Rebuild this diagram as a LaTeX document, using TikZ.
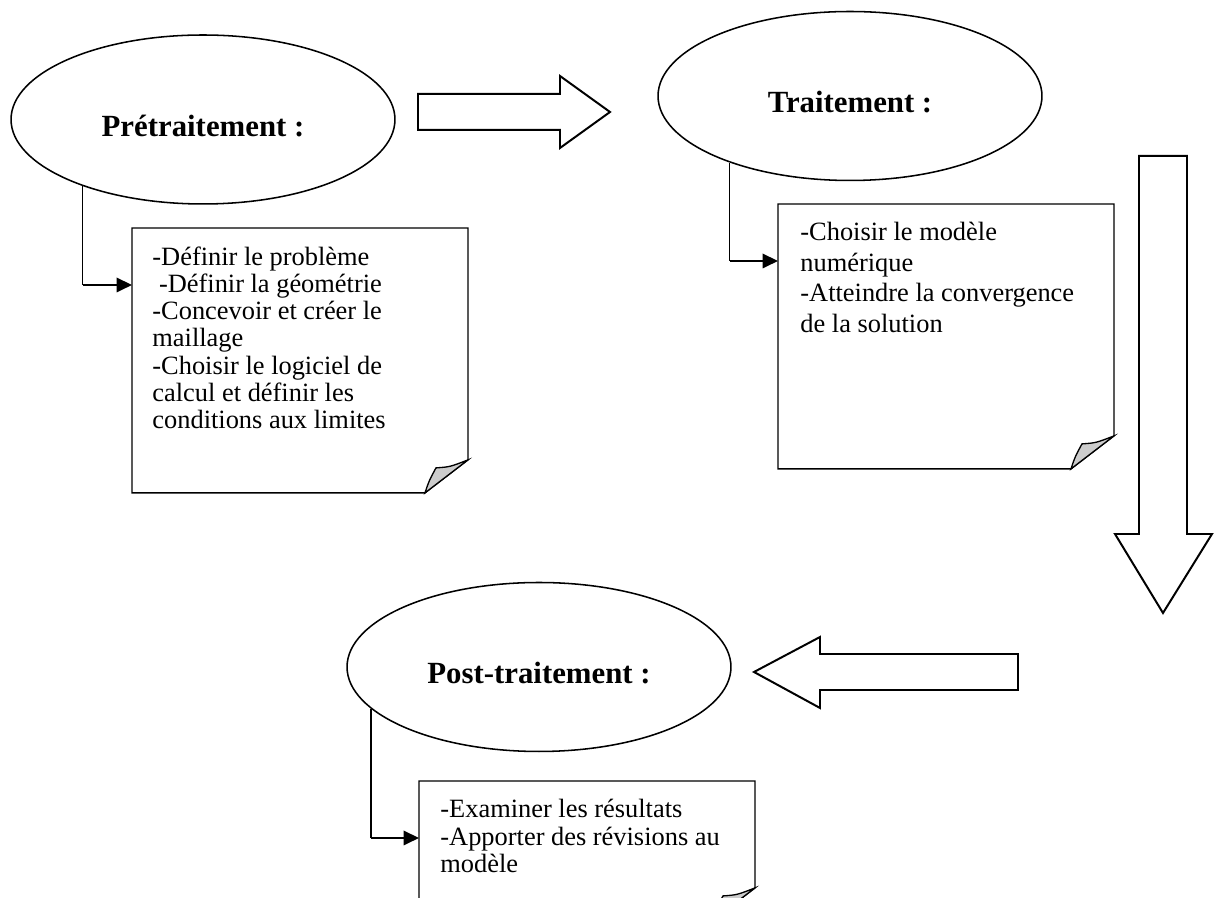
\documentclass[tikz,border=0pt]{standalone}
\usepackage{fontspec}
\setmainfont{Liberation Serif}
\usetikzlibrary{shapes.geometric,arrows.meta,calc}
\tikzset{
 phase/.style={ellipse,draw,line width=.7pt,minimum width=174.5pt,minimum height=76.8pt,inner sep=0pt,text height=15.5pt,font=\fontsize{14}{16}\selectfont\bfseries},
 notebox/.style={anchor=north west,minimum width=152.3pt,minimum height=120pt,inner sep=0pt},
 notetext/.style={anchor=north west,inner sep=0pt,align=left},
 fold/.style={fill=gray!40,draw,line width=.6pt},
 blockarrow/.style={draw,line width=.9pt,line join=miter},
 feed/.style={line width=.6pt},
 link/.style={-{Triangle[length=7pt,width=6.5pt]},line width=1.1pt}
}
\begin{document}
\begin{tikzpicture}[x=.4545pt,y=-.4545pt]
\useasboundingbox (0,0) rectangle (1216,898); \clip (0,0) rectangle (1216,898);
% phases
\node[phase] (pre) at (203,119.5) {Prétraitement :};
\node[phase] (proc) at (850,96) {Traitement :};
\node[phase] (post) at (539,667) {Post-traitement :};
% notes
\node[notebox] (n1) at (132,228) {}; \node[notebox] (n2) at (778,204) {}; \node[notebox,minimum height=63.2pt] (n3) at (419,781) {};
\foreach \n in {n1,n2,n3}{
 \draw[feed] (\n.north west)--(\n.north east)--($(\n.south east)+(0,-33)$)--($(\n.south east)+(-43,0)$)--(\n.south west)--cycle;
 \draw[fold] ($(\n.south east)+(-43,0)$) .. controls ($(\n.south east)+(-39,-12)$) .. ($(\n.south east)+(-32,-25)$) .. controls ($(\n.south east)+(-18,-26)$) .. ($(\n.south east)+(0,-33)$)--cycle;}
\node[notetext,font=\fontsize{12}{12.4}\selectfont] (t1) at ($(n1.north west)+(20,18)$) {-Définir le problème\\ \ -Définir la géométrie\\-Concevoir et créer le\\maillage\\-Choisir le logiciel de\\calcul et définir les\\conditions aux limites};
\node[notetext,font=\fontsize{12}{13.9}\selectfont] (t2) at ($(n2.north west)+(22,18)$) {-Choisir le modèle\\numérique\\-Atteindre la convergence\\de la solution};
\node[notetext,font=\fontsize{12}{12.4}\selectfont] (t3) at ($(n3.north west)+(21,18)$) {-Examiner les résultats\\-Apporter des révisions au\\modèle};
% links phase -> note
\coordinate (h1) at ($(n1.north west)+(0,57)$); \coordinate (h2) at ($(n2.north west)+(0,57)$); \coordinate (h3) at ($(n3.north west)+(0,57)$);
\draw[feed] (pre.209)--(pre.209 |- h1); \draw[link] (pre.209 |- h1)--(h1);
\draw[feed] (proc.209)--(proc.209 |- h2); \draw[link] (proc.209 |- h2)--(h2);
\draw[feed] (post.194)--(post.194 |- h3); \draw[link] (post.194 |- h3)--(h3);
% block arrows
\draw[blockarrow] (418,94)--(560,94)--(560,76)--(610,112)--(560,148)--(560,130)--(418,130)--cycle;
\draw[blockarrow] (1139,156)--(1187,156)--(1187,534)--(1212,534)--(1163,613)--(1115,534)--(1139,534)--cycle;
\draw[blockarrow] (1018,654)--(820,654)--(820,637)--(754,672)--(820,708)--(820,690)--(1018,690)--cycle;
\end{tikzpicture}
\end{document}
